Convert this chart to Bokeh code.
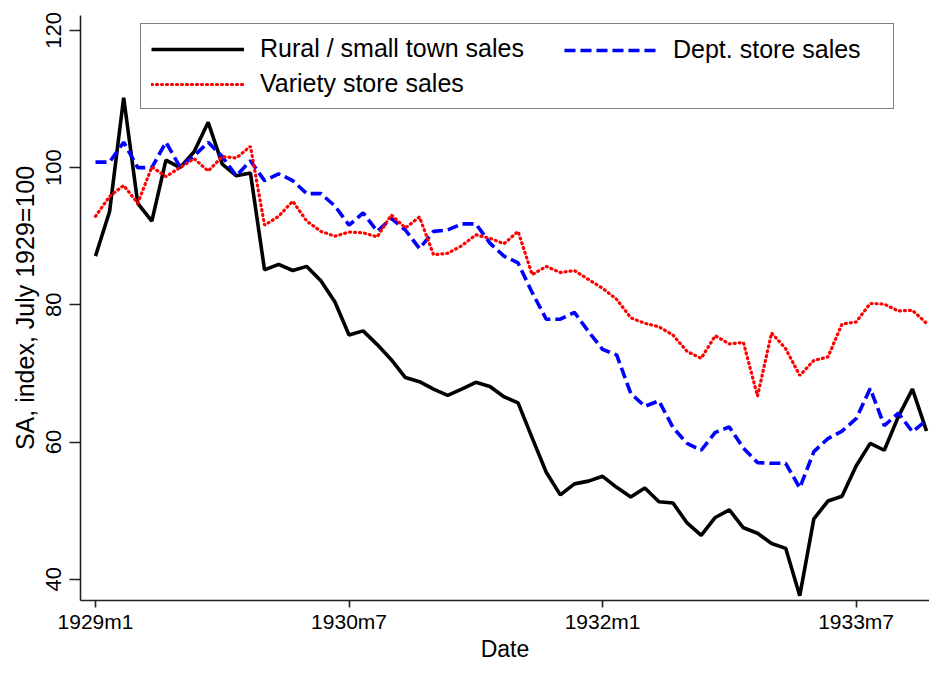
from bokeh.plotting import figure
from bokeh.models import FixedTicker, Legend, LegendItem, Range1d
from bokeh.embed import file_html
from bokeh.resources import INLINE

# month index 0 = 1929m1 ... 59 = 1933m12
months = list(range(60))

rural = [87.1, 93.6, 110.2, 94.8, 92.2, 101.1, 100.0, 102.3, 106.6, 100.5,
         98.8, 99.2, 85.1, 85.9, 85.0, 85.6, 83.5, 80.4, 75.6, 76.2,
         74.2, 72.0, 69.4, 68.8, 67.7, 66.8, 67.7, 68.7, 68.1, 66.6,
         65.7, 60.6, 55.6, 52.3, 53.9, 54.3, 55.0, 53.4, 52.0, 53.3,
         51.3, 51.1, 48.2, 46.4, 49.0, 50.1, 47.5, 46.7, 45.2, 44.5,
         37.6, 48.8, 51.4, 52.1, 56.5, 59.8, 58.8, 63.7, 67.7, 61.6]

dept = [100.8, 100.8, 103.7, 100.0, 100.0, 103.7, 100.1, 101.7, 103.7, 101.6,
        98.8, 101.0, 98.1, 99.1, 98.1, 96.2, 96.2, 94.4, 91.6, 93.4,
        90.7, 92.6, 90.9, 88.2, 90.7, 90.9, 91.8, 91.8, 89.0, 87.1,
        86.1, 81.8, 77.9, 77.9, 78.9, 76.1, 73.5, 72.7, 67.1, 65.2,
        66.0, 62.1, 59.8, 58.8, 61.4, 62.2, 59.1, 57.0, 56.9, 56.9,
        53.3, 58.6, 60.5, 61.6, 63.4, 67.8, 62.4, 64.2, 61.5, 63.2]

variety = [92.9, 95.8, 97.4, 94.8, 100.1, 98.7, 100.0, 101.3, 99.5, 101.6,
           101.4, 103.1, 91.6, 92.9, 95.1, 92.2, 90.7, 90.0, 90.6, 90.5,
           89.9, 93.1, 91.2, 92.8, 87.3, 87.5, 88.6, 90.2, 89.7, 88.9,
           90.7, 84.4, 85.6, 84.7, 85.0, 83.7, 82.4, 80.8, 78.1, 77.3,
           76.8, 75.6, 73.2, 72.2, 75.5, 74.3, 74.5, 66.7, 75.9, 73.6,
           69.7, 71.9, 72.4, 77.2, 77.5, 80.2, 80.1, 79.1, 79.2, 77.3]

x_tick_pos = [0, 18, 36, 54]
x_tick_labels = ["1929m1", "1930m7", "1932m1", "1933m7"]
y_ticks = [40, 60, 80, 100, 120]

series_labels = ["Rural / small town sales", "Dept. store sales", "Variety store sales"]

FONT = "Liberation Sans"
FRAME_BOTTOM = 600  # canvas px

p = figure(width=929, height=665, output_backend="svg", toolbar_location=None,
           x_range=Range1d(-1.065, 59.21), y_range=Range1d(36.9, 122.17),
           min_border_left=80, min_border_right=0, min_border_top=15,
           min_border_bottom=665 - FRAME_BOTTOM)
p.outline_line_color = None
p.grid.visible = False
p.background_fill_color = "white"
p.border_fill_color = "white"

r1 = p.line(months, rural, line_color="black", line_width=3.6)
r2 = p.line(months, dept, line_color="#0000ff", line_width=3.6, line_dash="11 5")
r3 = p.line(months, variety, line_color="#ff0000", line_width=3.2,
            line_dash="1 4", line_cap="round")

p.xaxis.ticker = FixedTicker(ticks=x_tick_pos)
p.xaxis.major_label_overrides = {k: v for k, v in zip(x_tick_pos, x_tick_labels)}
p.yaxis.ticker = FixedTicker(ticks=y_ticks)
p.yaxis.major_label_orientation = "vertical"
p.xaxis.axis_label = "Date"
p.yaxis.axis_label = "SA, index, July 1929=100"

for ax in (p.xaxis[0], p.yaxis[0]):
    ax.major_tick_in = 0
    ax.minor_tick_line_color = None
    ax.axis_line_color = "#222222"
    ax.axis_line_width = 1.6
    ax.major_tick_line_color = "#222222"
    ax.major_tick_line_width = 1.6
    ax.major_label_text_font = FONT
    ax.major_label_text_color = "black"
    ax.axis_label_text_font = FONT
    ax.axis_label_text_font_style = "normal"
    ax.axis_label_text_color = "black"

p.xaxis.major_tick_out = 7
p.xaxis.major_label_standoff = 2
p.xaxis.major_label_text_font_size = "21px"
p.xaxis.axis_label_standoff = 0
p.xaxis.axis_label_text_font_size = "23px"
p.yaxis.major_tick_out = 11
p.yaxis.major_label_standoff = 8
p.yaxis.major_label_text_font_size = "22px"
p.yaxis.axis_label_standoff = 5
p.yaxis.axis_label_text_font_size = "25px"


def style_legend(lg):
    lg.padding = 10
    lg.spacing = 6
    lg.margin = 0
    lg.glyph_width = 93
    lg.glyph_height = 28
    lg.label_height = 28
    lg.label_standoff = 16
    lg.label_text_font = FONT
    lg.label_text_font_size = "25px"
    lg.label_text_color = "black"
    lg.label_text_baseline = "middle"


# box legend: first column (rural, variety); wide label area gives the frame width
legend_a = Legend(items=[LegendItem(label=series_labels[0], renderers=[r1]),
                         LegendItem(label=series_labels[2], renderers=[r3])],
                  orientation="vertical", location=(60, FRAME_BOTTOM - 109))
style_legend(legend_a)
legend_a.label_width = 623
legend_a.border_line_color = "black"
legend_a.border_line_width = 1.5
legend_a.background_fill_color = "white"
legend_a.background_fill_alpha = 1.0

# second column (dept. store) sits inside the same box
legend_b = Legend(items=[LegendItem(label=series_labels[1], renderers=[r2])],
                  orientation="vertical", location=(484, FRAME_BOTTOM - 64))
style_legend(legend_b)
legend_b.border_line_color = None
legend_b.background_fill_alpha = 0.0

p.add_layout(legend_a, "center")
p.add_layout(legend_b, "center")

open("out.html", "w").write(file_html(p, INLINE))
